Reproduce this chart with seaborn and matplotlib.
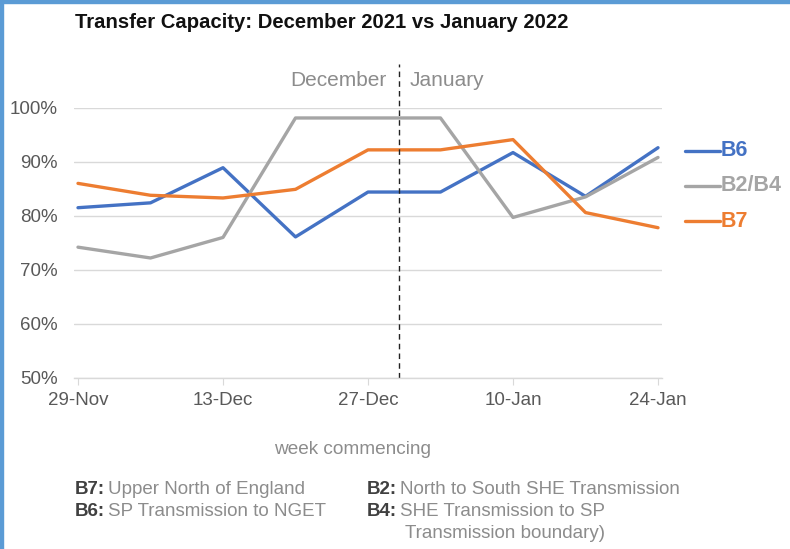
import matplotlib
matplotlib.use("Agg")
import matplotlib.pyplot as plt
import seaborn as sns
import pandas as pd
from matplotlib.patches import Rectangle

weeks = ["29-Nov", "6-Dec", "13-Dec", "20-Dec", "27-Dec", "3-Jan", "10-Jan", "17-Jan", "24-Jan"]
b6 = [81.5, 82.4, 88.9, 76.1, 84.4, 84.4, 91.7, 83.6, 92.6]
b2b4 = [74.2, 72.2, 76.0, 98.1, 98.1, 98.1, 79.7, 83.5, 90.8]
b7 = [86.0, 83.8, 83.3, 84.9, 92.2, 92.2, 94.1, 80.6, 77.8]
series_names = ["B6", "B2/B4", "B7"]
tick_labels = ["29-Nov", "13-Dec", "27-Dec", "10-Jan", "24-Jan"]
y_ticks = [50, 60, 70, 80, 90, 100]

colors = {"B6": "#4472C4", "B2/B4": "#A5A5A5", "B7": "#ED7D31"}

rows = []
for name, vals in zip(series_names, [b6, b2b4, b7]):
    for i, v in enumerate(vals):
        rows.append({"pos": i, "week": weeks[i], "value": v, "series": name})
df = pd.DataFrame(rows)

sns.set_style("white")
plt.rcParams["font.family"] = ["Liberation Sans", "DejaVu Sans"]

fig = plt.figure(figsize=(7.9, 5.49), dpi=100)
ax = fig.add_axes([74 / 790, 1 - 378 / 549, (662 - 74) / 790, (378 - 107.7) / 549])

sns.lineplot(data=df, x="pos", y="value", hue="series", palette=colors,
             hue_order=series_names, linewidth=2.4, legend=False, ax=ax,
             sort=False)

ax.set_xlim(-0.055, 8.055)
ax.set_ylim(50, 100)
ax.set_yticks(y_ticks)
ax.set_yticklabels([f"{t}%" for t in y_ticks])
ax.set_xticks([0, 2, 4, 6, 8])
ax.set_xticklabels(tick_labels)
ax.set_xlabel("")
ax.set_ylabel("")
ax.grid(axis="y", color="#D9D9D9", linewidth=1)
ax.set_axisbelow(True)
for s in ["left", "right", "top"]:
    ax.spines[s].set_visible(False)
ax.spines["bottom"].set_color("#D9D9D9")
ax.spines["bottom"].set_linewidth(1)
ax.tick_params(axis="x", colors="#595959", labelsize=13.5, length=5, color="#D9D9D9",
               direction="out", bottom=True, pad=5)
ax.tick_params(axis="y", colors="#595959", labelsize=13.5, length=0, pad=12)

# month divider
ax.axvline(4.43, ymin=0, ymax=1.16, color="#222222", linestyle=(0, (4, 3)),
           linewidth=1, clip_on=False)
ax.text(4.43 - 0.18, 1.10, "December", transform=ax.get_xaxis_transform(),
        ha="right", va="center", fontsize=15, color="#8C8C8C")
ax.text(4.43 + 0.15, 1.10, "January", transform=ax.get_xaxis_transform(),
        ha="left", va="center", fontsize=15, color="#8C8C8C")

# right-side labels
label_y = {"B6": 151, "B2/B4": 186, "B7": 221}
for name in series_names:
    y = 1 - label_y[name] / 549
    fig.add_artist(plt.Line2D([685 / 790, 720 / 790], [y, y], color=colors[name],
                              linewidth=2.4, transform=fig.transFigure))
    fig.text(721 / 790, y, name, ha="left", va="center", fontsize=15.5,
             fontweight="bold", color=colors[name])

fig.text(75 / 790, 1 - 22 / 549, "Transfer Capacity: December 2021 vs January 2022",
         ha="left", va="center", fontsize=14.6, fontweight="bold", color="#111111")

fig.text(353 / 790, 1 - 449 / 549, "week commencing", ha="center", va="center",
         fontsize=13.7, color="#8C8C8C")

def note(x, y, bold, rest):
    t = fig.text(x / 790, 1 - y / 549, bold, ha="left", va="center", fontsize=13.5,
                 fontweight="bold", color="#404040")
    fig.canvas.draw()
    bb = t.get_window_extent()
    fig.text(bb.x1 / 790 + 3 / 790, 1 - y / 549, rest, ha="left", va="center",
             fontsize=13.5, color="#8C8C8C")

note(75, 489, "B7:", "Upper North of England")
note(75, 512, "B6:", "SP Transmission to NGET")
note(367, 489, "B2:", "North to South SHE Transmission")
note(367, 512, "B4:", "SHE Transmission to SP")
fig.text(405 / 790, 1 - 533 / 549, "Transmission boundary)", ha="left", va="center",
         fontsize=13.5, color="#8C8C8C")

# border on top and left
fig.add_artist(Rectangle((0, 0), 2.5 / 790, 1, transform=fig.transFigure,
                         color="#5B9BD5", zorder=10))
fig.add_artist(Rectangle((0, 1 - 2.5 / 549), 1, 2.5 / 549, transform=fig.transFigure,
                         color="#5B9BD5", zorder=10))

fig.savefig("out.png", dpi=100)
